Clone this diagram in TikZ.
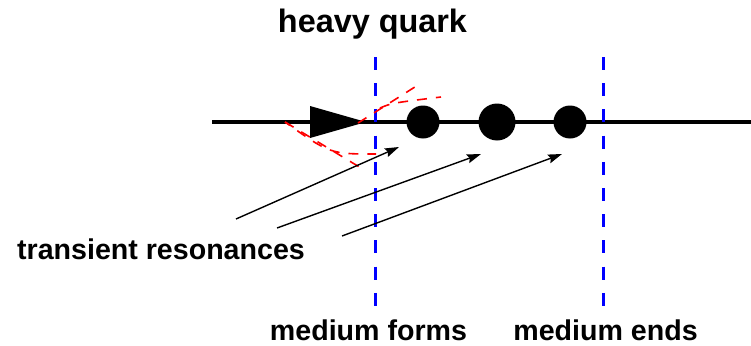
\documentclass[tikz,border=0pt]{standalone}
\usepackage{fontspec}
\setmainfont{Liberation Sans}
\usetikzlibrary{arrows.meta}
\begin{document}
\begin{tikzpicture}[x=1pt,y=-1pt,
  lbl/.style={font=\bfseries\fontsize{28.6}{34}\selectfont,anchor=base,inner sep=0pt},
  ttl/.style={font=\bfseries\fontsize{32.4}{38}\selectfont,anchor=base,inner sep=0pt},
  medline/.style={blue,line width=3pt,dash pattern=on 13pt off 13.2pt},
  glow/.style={red,line width=1.6pt,dash pattern=on 10pt off 9pt},
  res/.style={circle,fill=black,inner sep=0pt},
  ptr/.style={line width=1.4pt,-{Stealth[length=14pt,width=9pt,inset=2pt]}}]
\useasboundingbox (0,0) rectangle (751,345);
% main line
\coordinate (L0) at (212,122);
\coordinate (L1) at (751,122);
\draw[line width=4pt] (L0) -- (L1);
% blue medium boundaries
\coordinate (F0) at (375,57); \coordinate (F1) at (375,306);
\coordinate (E0) at (603,57); \coordinate (E1) at (603,306);
\draw[medline] (F0) -- (F1);
\draw[medline] (E0) -- (E1);
% heavy quark triangle
\coordinate (T1) at (310,106); \coordinate (T2) at (310,138); \coordinate (tip) at (366,122);
\fill (T1) -- (tip) -- (T2) -- cycle;
% resonances
\node[res,minimum size=33pt] (r1) at (423,122) {};
\node[res,minimum size=37pt] (r2) at (497,122) {};
\node[res,minimum size=33pt] (r3) at (570,122) {};
% red dashed radiation
\coordinate (a0) at (358,123); \coordinate (a1) at (418,85);
\coordinate (b0) at (380,108); \coordinate (b1) at (441,97);
\coordinate (c0) at (285,122); \coordinate (c1) at (361,168); \coordinate (c2) at (376,154);
\draw[glow] (a0) -- (a1);
\draw[glow] (b0) .. controls (392,103) .. (b1);
\draw[glow] (c0) -- (c1);
\draw[glow,dash phase=4pt] (c0) .. controls (330,154) .. (c2);
% arrows
\coordinate (s1) at (236,219); \coordinate (e1) at (399,147);
\coordinate (s2) at (277,228); \coordinate (e2) at (481,154);
\coordinate (s3) at (342,236); \coordinate (e3) at (562,154);
\draw[ptr] (s1) -- (e1);
\draw[ptr] (s2) -- (e2);
\draw[ptr] (s3) -- (e3);
% texts
\node[ttl] (hq) at (372.5,33) {heavy quark};
\node[lbl] (tr) at (161,259) {transient resonances};
\node[lbl] (mf) at (368.5,340) {medium forms};
\node[lbl] (me) at (605.5,340) {medium ends};
\end{tikzpicture}
\end{document}
